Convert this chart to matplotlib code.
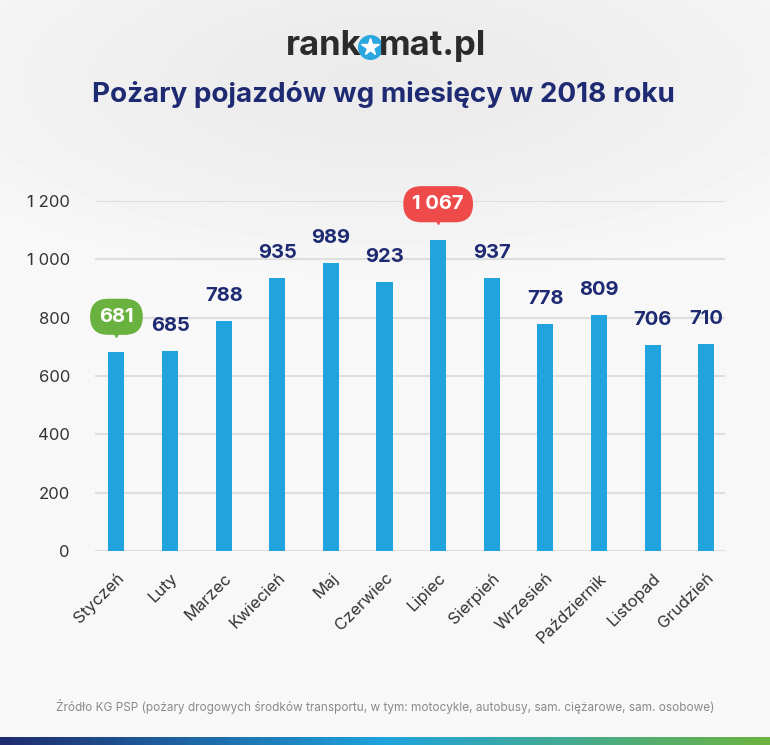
import matplotlib.pyplot as plt
import numpy as np
from matplotlib.colors import LinearSegmentedColormap

# dane
miesiace = ['Styczeń', 'Luty', 'Marzec', 'Kwiecień', 'Maj', 'Czerwiec',
            'Lipiec', 'Sierpień', 'Wrzesień', 'Październik', 'Listopad', 'Grudzień']
pozary = [681, 685, 788, 935, 989, 923, 1067, 937, 778, 809, 706, 710]
y_ticks = [0, 200, 400, 600, 800, 1000, 1200]

plt.rcParams['font.family'] = ['Inter', 'DejaVu Sans']

fig = plt.figure(figsize=(7.7, 7.45), dpi=100)

# tlo - jasny gradient z szara plama u gory
bg = fig.add_axes([0, 0, 1, 1], zorder=-10)
yy, xx = np.mgrid[0:745, 0:770]
d = np.sqrt(((xx - 385) / 520.0) ** 2 + ((yy - 80) / 200.0) ** 2)
shade = 0.92 + 0.05 * np.clip(d, 0, 1) ** 1.5
bg.imshow(shade, cmap='gray', vmin=0, vmax=1, aspect='auto', extent=[0, 770, 745, 0])
bg.set_xlim(0, 770)
bg.set_ylim(745, 0)
bg.axis('off')

# pasek gradientowy na dole
grad = LinearSegmentedColormap.from_list('g', ['#1e2b6e', '#1fa3dc', '#6cb33f'])
bg.imshow(np.linspace(0, 1, 256).reshape(1, -1), cmap=grad, aspect='auto',
          extent=[0, 770, 745, 737])
bg.set_xlim(0, 770)
bg.set_ylim(745, 0)

# logo
bg.text(361, 46, 'rank', ha='right', va='center', fontsize=25, fontweight='bold', color='#2b2b2b')
bg.text(379, 46, 'mat.pl', ha='left', va='center', fontsize=25, fontweight='bold', color='#2b2b2b')
bg.plot(370, 47, 'o', ms=17, color='#2aa6e0')
bg.plot(370, 47, '*', ms=13, color='white')

# tytul
bg.text(383, 95, 'Pożary pojazdów wg miesięcy w 2018 roku', ha='center', va='center',
        fontsize=20, fontweight='bold', color='#1e2a72')

# zrodlo
bg.text(385, 706, 'Źródło KG PSP (pożary drogowych środków transportu, w tym: motocykle, '
        'autobusy, sam. ciężarowe, sam. osobowe)', ha='center', va='center',
        fontsize=8.5, color='#8a8a8a')

ax = fig.add_axes([95 / 770, (745 - 551) / 745, 630 / 770, 350 / 745])
ax.patch.set_alpha(0)
x = np.arange(len(miesiace))
ax.bar(x, pozary, width=0.3, color='#21a3dd', zorder=3)
ax.set_xlim(-0.4, 11.35)
ax.set_ylim(0, 1200)
ax.set_yticks(y_ticks)
ax.set_yticklabels([f'{v:,}'.replace(',', ' ') for v in y_ticks], fontsize=12, color='#333333')
ax.grid(axis='y', color='#dedede', linewidth=1.5, zorder=0)
ax.set_xticks(x)
ax.set_xticklabels(miesiace, rotation=45, ha='right', rotation_mode='anchor',
                   fontsize=12, color='#333333')
ax.tick_params(length=0)
ax.tick_params(axis='y', pad=18)
ax.tick_params(axis='x', pad=14)
for s in ax.spines.values():
    s.set_visible(False)

i_min = int(np.argmin(pozary))
i_max = int(np.argmax(pozary))
for i, v in enumerate(pozary):
    lab = f'{v:,}'.replace(',', ' ')
    if i == i_min or i == i_max:
        col = '#6ab23f' if i == i_min else '#ef4a4a'
        ax.text(i, v + 122, lab, ha='center', va='center', fontsize=14.5, fontweight='bold',
                color='white', zorder=5,
                bbox=dict(boxstyle='round,pad=0.45,rounding_size=0.9', fc=col, ec='none'))
        ax.plot(i, v + 68, 'v', ms=6, color=col, clip_on=False, zorder=5)
    else:
        ax.text(i, v + 85, lab, ha='center', va='center', fontsize=14.5, fontweight='bold',
                color='#1e2a72', zorder=5)

fig.savefig('out.png', dpi=100)
